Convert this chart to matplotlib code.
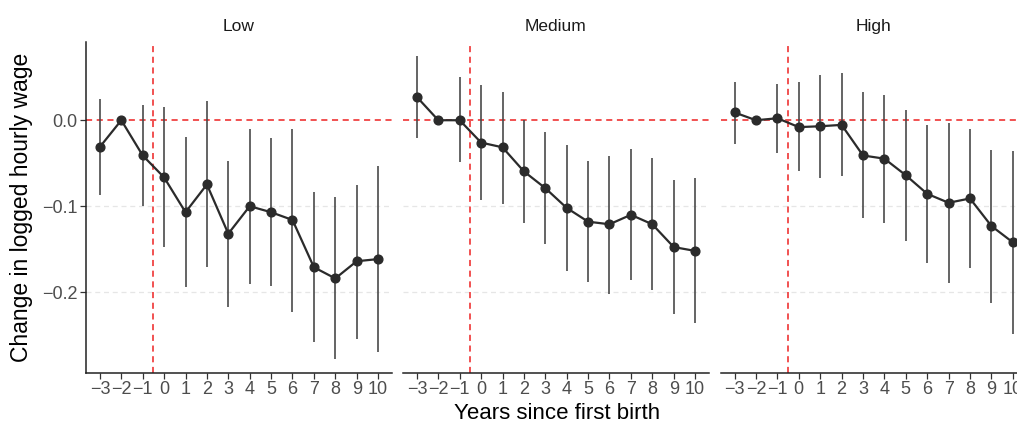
"""Event-study plot: change in logged hourly wage by years since first birth, three panels."""
import numpy as np
import matplotlib
matplotlib.use("Agg")
import matplotlib.pyplot as plt

plt.rcParams["font.family"] = ["Liberation Sans", "DejaVu Sans"]

years = [-3, -2, -1, 0, 1, 2, 3, 4, 5, 6, 7, 8, 9, 10]
panels = ["Low", "Medium", "High"]

low_est = [-0.031, 0.0, -0.041, -0.0665, -0.107, -0.0747, -0.132, -0.100, -0.107, -0.116, -0.171, -0.184, -0.164, -0.1615]
low_hi = [0.025, None, 0.018, 0.015, -0.020, 0.022, -0.047, -0.010, -0.021, -0.010, -0.083, -0.089, -0.075, -0.053]
low_lo = [-0.087, None, -0.100, -0.148, -0.194, -0.171, -0.217, -0.190, -0.193, -0.223, -0.258, -0.278, -0.254, -0.269]

med_est = [0.027, 0.0, 0.0, -0.026, -0.0315, -0.0595, -0.079, -0.102, -0.118, -0.121, -0.110, -0.121, -0.1475, -0.152]
med_hi = [0.075, None, 0.050, 0.0405, 0.033, 0.0, -0.014, -0.029, -0.0475, -0.042, -0.0335, -0.044, -0.070, -0.067]
med_lo = [-0.021, None, -0.049, -0.093, -0.097, -0.119, -0.144, -0.1755, -0.188, -0.202, -0.186, -0.198, -0.225, -0.236]

high_est = [0.009, 0.0, 0.0023, -0.008, -0.007, -0.0054, -0.041, -0.0447, -0.064, -0.0856, -0.096, -0.091, -0.123, -0.142]
high_hi = [0.045, None, 0.042, 0.044, 0.053, 0.055, 0.033, 0.029, 0.012, -0.005, -0.003, -0.010, -0.035, -0.036]
high_lo = [-0.028, None, -0.038, -0.0595, -0.067, -0.065, -0.114, -0.119, -0.140, -0.166, -0.189, -0.172, -0.212, -0.249]

y_ticks = [-0.2, -0.1, 0.0]
y_tick_labels = ["\u22120.2", "\u22120.1", "0.0"]
x_tick_labels = ["\u22123", "\u22122", "\u22121"] + [str(v) for v in years[3:]]

series = [(low_est, low_lo, low_hi), (med_est, med_lo, med_hi), (high_est, high_lo, high_hi)]

W, H = 1017, 423
fig = plt.figure(figsize=(W / 100, H / 100), dpi=100)

# panel boxes in pixels: left, top, width, height
lefts = [86, 403, 720.7]
top, bottom, pw = 42, 373, 306

for i, (name, (est, lo, hi)) in enumerate(zip(panels, series)):
    ax = fig.add_axes([lefts[i] / W, (H - bottom) / H, pw / W, (bottom - top) / H])
    x = np.array(years, dtype=float)
    mask = np.array([v is not None for v in lo])
    lo_arr = np.array([v if v is not None else np.nan for v in lo])
    hi_arr = np.array([v if v is not None else np.nan for v in hi])

    for g in [-0.2, -0.1]:
        ax.axhline(g, color="#e6e6e6", lw=0.9, ls=(0, (4, 3)), zorder=0)
    ax.axhline(0, color="#ee2222", lw=1.1, ls=(0, (4, 3)), zorder=1)
    ax.axvline(-0.5, color="#ee2222", lw=1.1, ls=(0, (4, 3)), zorder=1)

    ax.vlines(x[mask], lo_arr[mask], hi_arr[mask], color="#4a4a4a", lw=1.2, zorder=2)
    ax.plot(x, est, color="#2b2b2b", lw=1.6, zorder=3)
    ax.plot(x, est, "o", color="#2b2b2b", ms=6.3, zorder=4)

    ax.set_xlim(-3.65, 10.65)
    ax.set_ylim(-0.294, 0.091)
    ax.set_xticks(years)
    ax.set_xticklabels(x_tick_labels)
    ax.set_yticks(y_ticks)

    for s in ["top", "right"]:
        ax.spines[s].set_visible(False)
    ax.spines["bottom"].set_color("#222222")
    ax.spines["bottom"].set_linewidth(1.1)
    ax.tick_params(axis="x", length=4, width=0.9, color="#333333",
                   labelsize=13, labelcolor="#4d4d4d", pad=2)
    if i == 0:
        ax.spines["left"].set_color("#222222")
        ax.spines["left"].set_linewidth(1.1)
        ax.set_yticklabels(y_tick_labels)
        ax.tick_params(axis="y", length=4, width=0.9, color="#333333",
                       labelsize=13, labelcolor="#4d4d4d", pad=2)
    else:
        ax.spines["left"].set_visible(False)
        ax.tick_params(axis="y", left=False, labelleft=False)
    ax.set_title(name, fontsize=12.5, color="#1a1a1a", pad=8)

fig.text(22 / W, 1 - 207.5 / H, "Change in logged hourly wage", rotation=90,
         ha="center", va="center", fontsize=16.5, color="black")
fig.text(557.5 / W, 1 - 413 / H, "Years since first birth", ha="center", va="center",
         fontsize=16, color="black")

fig.savefig("out.png", dpi=100)
